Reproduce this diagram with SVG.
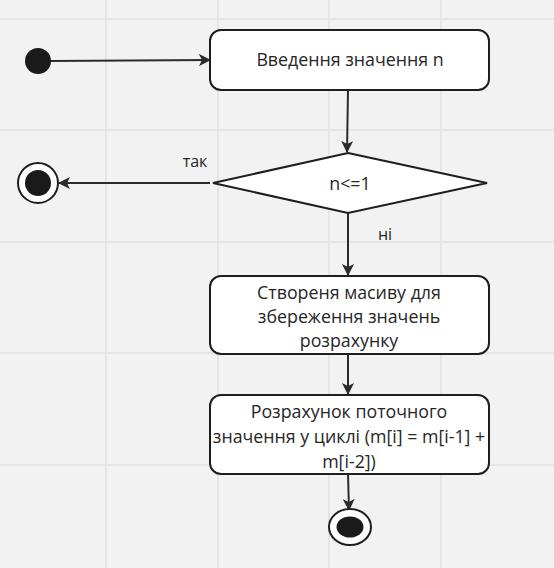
<svg xmlns="http://www.w3.org/2000/svg" width="554" height="568" viewBox="0 0 554 568">
<defs>
<marker id="arr" viewBox="0 0 12 12" refX="11" refY="6" markerWidth="12" markerHeight="12" markerUnits="userSpaceOnUse" orient="auto">
<path d="M0,0 L12,6 L0,12 L3,6 z" fill="#2b2b2b"/>
</marker>
<style>
.grid{stroke:#e0e0e0;stroke-width:1.5}
.box{fill:#ffffff;stroke:#1e1e1e;stroke-width:2}
.lbl{font-family:"Open Sans","Noto Sans",sans-serif;font-size:17.8px;fill:#262626;text-anchor:middle}
.edge{stroke:#2b2b2b;stroke-width:2;fill:none;marker-end:url(#arr)}
</style>
</defs>
<rect width="554" height="568" fill="#f2f2f2"/>
<g id="grid">
<line class="grid" x1="106" y1="0" x2="106" y2="568"/>
<line class="grid" x1="218" y1="0" x2="218" y2="568"/>
<line class="grid" x1="329" y1="0" x2="329" y2="568"/>
<line class="grid" x1="441" y1="0" x2="441" y2="568"/>
<line class="grid" x1="0" y1="19" x2="554" y2="19"/>
<line class="grid" x1="0" y1="130" x2="554" y2="130"/>
<line class="grid" x1="0" y1="242" x2="554" y2="242"/>
<line class="grid" x1="0" y1="353" x2="554" y2="353"/>
<line class="grid" x1="0" y1="465" x2="554" y2="465"/>
</g>
<g id="connectors">
<line class="edge" x1="50" y1="61" x2="210" y2="60"/>
<line class="edge" x1="348" y1="90" x2="347" y2="152"/>
<line class="edge" x1="210" y1="183" x2="59" y2="183"/>
<line class="edge" x1="348" y1="213" x2="348" y2="275"/>
<line class="edge" x1="348" y1="354" x2="348" y2="394"/>
<line class="edge" x1="348" y1="474" x2="349" y2="510"/>
<text class="lbl" x="195" y="167" style="font-size:16px">так</text>
<text class="lbl" x="385" y="240" style="font-size:16px">ні</text>
</g>
<g id="start">
<circle cx="38" cy="61" r="13" fill="#1a1a1a"/>
</g>
<g id="input">
<rect class="box" x="210" y="30" width="279" height="60" rx="11"/>
<text class="lbl" x="350" y="66">Введення значення n</text>
</g>
<g id="decision">
<polygon class="box" points="348,153 487,183 348,213 213,183"/>
<text class="lbl" x="350" y="190">n&lt;=1</text>
</g>
<g id="end1">
<circle cx="38" cy="183" r="20" fill="#ffffff" stroke="#1e1e1e" stroke-width="2"/>
<circle cx="38" cy="183" r="13" fill="#1a1a1a"/>
</g>
<g id="create">
<rect class="box" x="210" y="276" width="279" height="78" rx="11"/>
<text class="lbl" x="349" y="299">Створеня масиву для</text>
<text class="lbl" x="349" y="323">збереження значень</text>
<text class="lbl" x="349" y="347">розрахунку</text>
</g>
<g id="calc">
<rect class="box" x="210" y="395" width="279" height="79" rx="11"/>
<text class="lbl" x="349" y="418">Розрахунок поточного</text>
<text class="lbl" x="349" y="443">значення у циклі (m[i] = m[i-1] +</text>
<text class="lbl" x="349" y="468">m[i-2])</text>
</g>
<g id="end2">
<ellipse cx="350" cy="527" rx="21" ry="18" fill="#ffffff" stroke="#1e1e1e" stroke-width="2"/>
<ellipse cx="350" cy="527" rx="13.5" ry="10.5" fill="#1a1a1a"/>
</g>
</svg>
